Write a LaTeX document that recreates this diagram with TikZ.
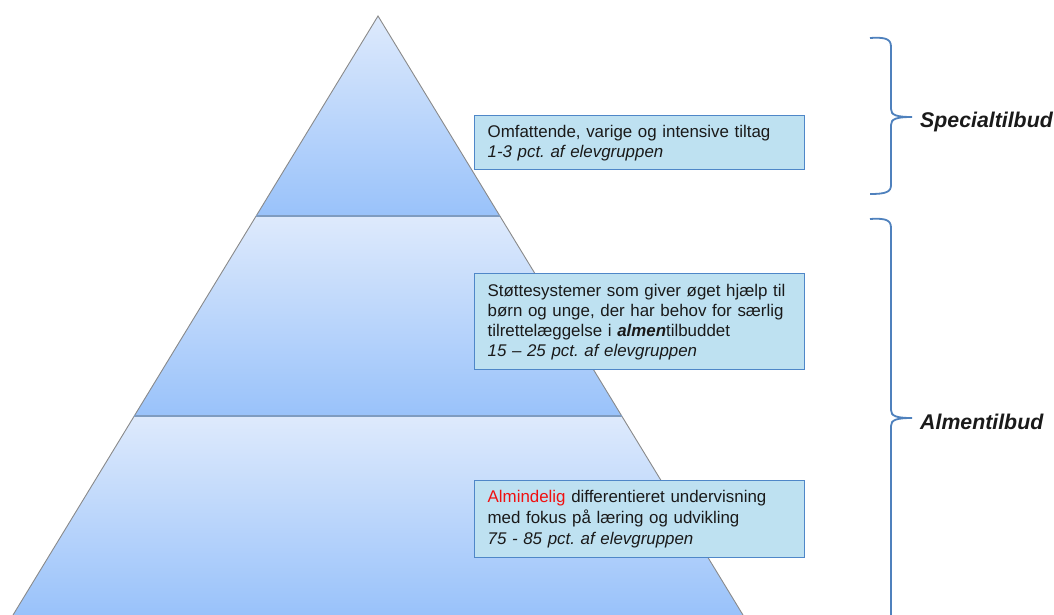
\documentclass[tikz,border=0pt]{standalone}
\usepackage{fontspec}
\setmainfont{Liberation Sans}
\frenchspacing
\definecolor{tiertop}{HTML}{DEEAFC}
\definecolor{tierbot}{HTML}{99C2FA}
\definecolor{boxfill}{HTML}{BEE1F1}
\definecolor{boxline}{HTML}{4F87C8}
\definecolor{braceblue}{HTML}{4F81BD}
\definecolor{edgegray}{HTML}{8A8A8A}
\definecolor{sepline}{HTML}{7F9CC0}
\definecolor{txt}{HTML}{1A1A1A}
\definecolor{redword}{HTML}{F01010}
\tikzset{
  tier/.style={top color=tiertop, bottom color=tierbot},
  infobox/.style={draw=boxline, fill=boxfill, line width=1.3pt, anchor=north west,
    text width=304pt, inner xsep=13pt, inner ysep=0pt, align=left, text=txt,
    font=\fontsize{16.9}{20}\selectfont},
  bracestyle/.style={draw=braceblue, line width=1.8pt},
  bracelabel/.style={anchor=west, text=txt, font=\fontsize{21.3}{24}\selectfont\bfseries\itshape, inner sep=0pt},
}
\begin{document}
\begin{tikzpicture}[x=1pt,y=-1pt]
\useasboundingbox (0,0) rectangle (1054,615);
% pyramid tiers
\shade[tier] (378,16) -- (500,216) -- (256,216) -- cycle;
\shade[tier] (256,216) -- (500,216) -- (622,416) -- (134,416) -- cycle;
\shade[tier] (134,416) -- (622,416) -- (743,615) -- (13,615) -- cycle;
\draw[edgegray, line width=0.9pt] (13,615) -- (378,16) -- (743,615);
\draw[sepline, line width=1.8pt] (256,216) -- (500,216);
\draw[sepline, line width=1.8pt] (134,416) -- (622,416);
% text boxes
\node[infobox, minimum height=54pt] (b1) at (474,115)
  {Omfattende, varige og intensive tiltag\\ \textit{1-3 pct. af elevgruppen}};
\node[infobox, minimum height=96pt] (b2) at (474,273)
  {Støttesystemer som giver øget hjælp til\\ børn og unge, der har behov for særlig\\ tilrettelæggelse i \textbf{\textit{almen}}tilbuddet\\ \textit{15 – 25 pct. af elevgruppen}};
\node[infobox, minimum height=77pt, font=\fontsize{16.9}{21}\selectfont] (b3) at (474,480)
  {\textcolor{redword}{Almindelig} differentieret undervisning\\ med fokus på læring og udvikling\\ \textit{75 - 85 pct. af elevgruppen}};
% braces
\coordinate (s1) at (870,38);
\coordinate (st) at (912,117);
\coordinate (s2) at (870,194);
\draw[bracestyle] (s1) .. controls (886,37) and (891,39) .. (891,47) -- (891,109)
  .. controls (891,115) and (896,117) .. (st)
  .. controls (896,117) and (891,119) .. (891,125) -- (891,185)
  .. controls (891,192) and (886,194) .. (s2);
\node[bracelabel] (l1) at (920,122) {Specialtilbud};
\coordinate (a1) at (870,219);
\coordinate (at) at (912,418);
\coordinate (a2) at (891,620);
\draw[bracestyle] (a1) .. controls (886,218) and (891,220) .. (891,228) -- (891,410)
  .. controls (891,416) and (896,418) .. (at)
  .. controls (896,418) and (891,420) .. (891,426) -- (a2);
\node[bracelabel] (l2) at (920,422) {Almentilbud};
\end{tikzpicture}
\end{document}
